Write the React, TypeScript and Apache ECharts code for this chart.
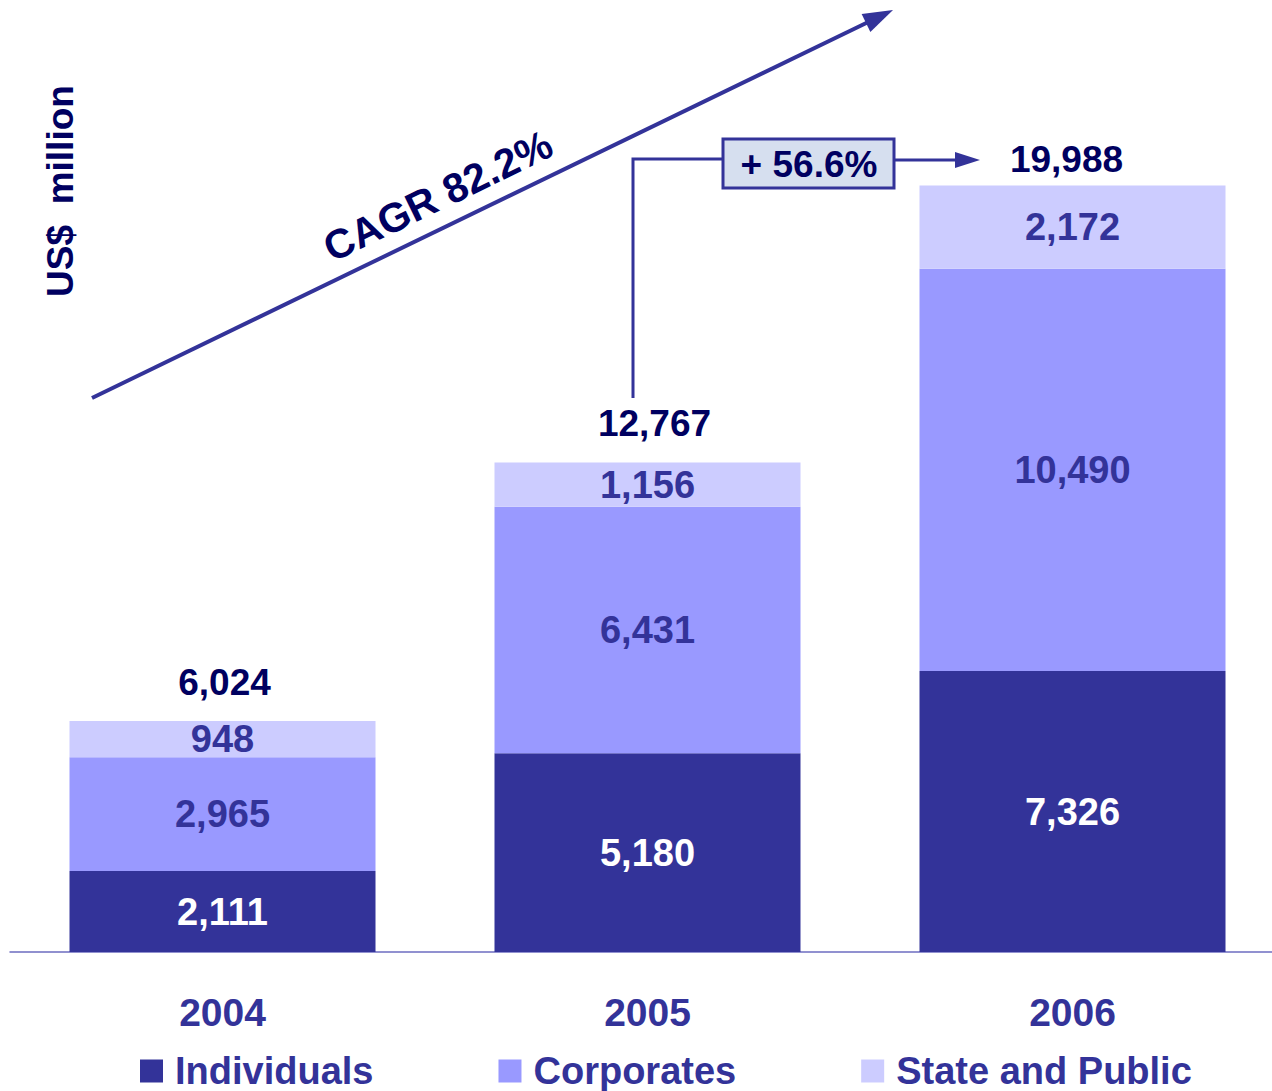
import React, { useEffect, useRef } from "react";
import * as echarts from "echarts";

const categories = ["2004", "2005", "2006"];
const individuals = [2111, 5180, 7326];
const corporates = [2965, 6431, 10490];
const statePublic = [948, 1156, 2172];
const seriesNames = ["Individuals", "Corporates", "State and Public"];
const cagrText = "CAGR 82.2%";
const growthText = "+ 56.6%";
const yAxisTitle = "US$  million";

const FONT = "'Liberation Sans', Arial, sans-serif";
const DARK = "#333399";
const MID = "#9999FF";
const LIGHT = "#CCCCFF";
const NAVY = "#000060";

const fmt = (v: number) => v.toLocaleString("en-US");

export default function App() {
  const ref = useRef<HTMLDivElement>(null);
  useEffect(() => {
    if (!ref.current) return;
    const chart = echarts.init(ref.current, null, { renderer: "svg" });
    const totals = categories.map((_, i) => individuals[i] + corporates[i] + statePublic[i]);
    const totalOffsets = [[2, -38], [7, -39], [-6, -26]];

    const ux = 801 / Math.hypot(801, 388);
    const uy = -388 / Math.hypot(801, 388);
    const tip = [893, 10];
    const base = [tip[0] - 30 * ux, tip[1] - 30 * uy];
    const px = -uy, py = ux;

    const labelBase = {
      show: true,
      position: "inside",
      fontFamily: FONT,
      fontWeight: "bold",
      fontSize: 38,
      textBorderWidth: 0,
      formatter: (p: any) => fmt(p.value),
    };

    chart.setOption({
      animation: false,
      grid: { left: 10, width: 1275, top: 185, bottom: 139, containLabel: false },
      xAxis: {
        type: "category",
        data: categories,
        axisLine: { lineStyle: { color: "#6C6CC0", width: 1.5 } },
        axisTick: { show: false },
        axisLabel: {
          margin: 41,
          color: DARK,
          fontFamily: FONT,
          fontWeight: "bold",
          fontSize: 39,
        },
      },
      yAxis: { type: "value", min: 0, max: 20000, show: false },
      legend: {
        data: seriesNames,
        left: 140,
        top: 1052,
        padding: 0,
        icon: "rect",
        itemWidth: 23,
        itemHeight: 23,
        itemGap: 125,
        textStyle: {
          color: DARK,
          fontFamily: FONT,
          fontWeight: "bold",
          fontSize: 38,
          lineHeight: 38,
          padding: [0, 0, 0, 7],
        },
      },
      series: [
        {
          name: seriesNames[0],
          type: "bar",
          stack: "total",
          barWidth: 306,
          data: individuals,
          itemStyle: { color: DARK },
          label: { ...labelBase, color: "#FFFFFF" },
        },
        {
          name: seriesNames[1],
          type: "bar",
          stack: "total",
          barWidth: 306,
          data: corporates,
          itemStyle: { color: MID },
          label: { ...labelBase, color: DARK },
        },
        {
          name: seriesNames[2],
          type: "bar",
          stack: "total",
          barWidth: 306,
          data: statePublic,
          itemStyle: { color: LIGHT },
          label: { ...labelBase, color: DARK },
        },
        {
          type: "scatter",
          symbolSize: 1,
          itemStyle: { color: "transparent", opacity: 1 },
          z: 5,
          data: totals.map((v, i) => ({
            value: v,
            label: { offset: totalOffsets[i] },
          })),
          label: {
            show: true,
            position: "inside",
            color: NAVY,
            opacity: 1,
            textBorderWidth: 0,
            fontFamily: FONT,
            fontWeight: "bold",
            fontSize: 37,
            formatter: (p: any) => fmt(p.value),
          },
        },
      ],
      graphic: [
        {
          type: "text",
          x: 60,
          y: 191,
          rotation: Math.PI / 2,
          style: {
            text: yAxisTitle,
            fill: NAVY,
            font: `bold 37px ${FONT}`,
            align: "center",
            verticalAlign: "middle",
          },
        },
        {
          type: "line",
          shape: { x1: 92, y1: 398, x2: base[0] + 2 * ux, y2: base[1] + 2 * uy },
          style: { stroke: DARK, lineWidth: 4 },
        },
        {
          type: "polygon",
          shape: {
            points: [
              tip,
              [base[0] + 10 * px, base[1] + 10 * py],
              [base[0] - 10 * px, base[1] - 10 * py],
            ],
          },
          style: { fill: DARK },
        },
        {
          type: "text",
          x: 438,
          y: 196,
          rotation: Math.atan2(388, 801),
          style: {
            text: cagrText,
            fill: NAVY,
            font: `bold 41px ${FONT}`,
            align: "center",
            verticalAlign: "middle",
          },
        },
        {
          type: "polyline",
          shape: { points: [[633, 398], [633, 159], [722, 159]] },
          style: { stroke: DARK, lineWidth: 3, fill: "none" },
        },
        {
          type: "rect",
          shape: { x: 723, y: 139, width: 171, height: 49 },
          style: { fill: "#D6DFEF", stroke: DARK, lineWidth: 3 },
        },
        {
          type: "text",
          x: 809,
          y: 164,
          style: {
            text: growthText,
            fill: NAVY,
            font: `bold 37px ${FONT}`,
            align: "center",
            verticalAlign: "middle",
          },
        },
        {
          type: "line",
          shape: { x1: 895, y1: 160, x2: 958, y2: 160 },
          style: { stroke: DARK, lineWidth: 3 },
        },
        {
          type: "polygon",
          shape: { points: [[980, 160], [955, 152], [955, 168]] },
          style: { fill: DARK },
        },
      ],
    });
    return () => chart.dispose();
  }, []);
  return (
    <div
      style={{
        position: "absolute",
        left: 0,
        top: 0,
        width: 1272,
        height: 1091,
        overflow: "hidden",
      }}
    >
      <div ref={ref} style={{ width: 1300, height: 1091 }} />
    </div>
  );
}
